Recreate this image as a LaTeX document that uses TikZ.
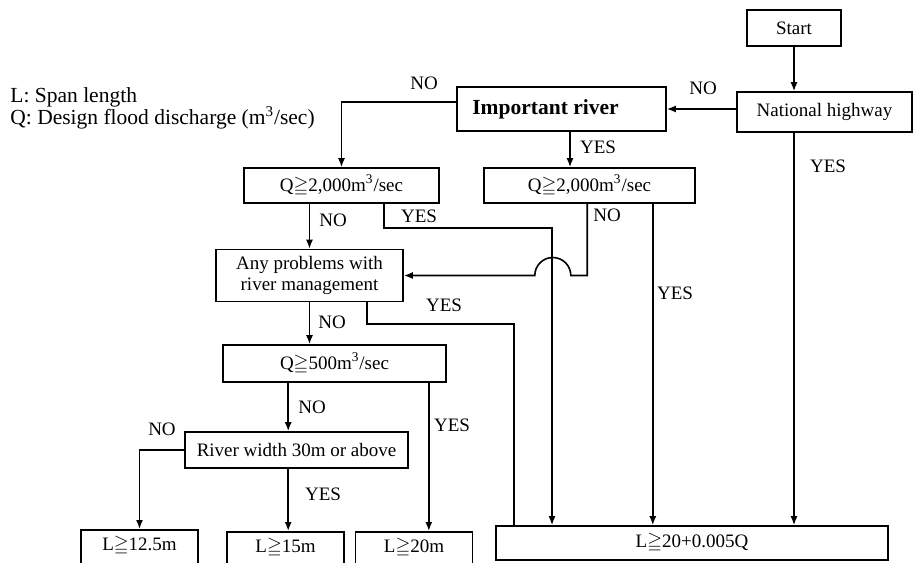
\documentclass[tikz,border=0pt]{standalone}
\usepackage{amssymb}
\usepackage{fontspec}
\setmainfont{Liberation Serif}
\usetikzlibrary{calc, arrows.meta, positioning}

\newcommand{\boxfont}{\fontsize{9.5}{10.5}\selectfont}
\newcommand{\geqmark}{$\geqq$}
\newcommand{\msec}{m\textsuperscript{3}/sec}

\begin{document}
\begin{tikzpicture}[x=0.5pt,y=-0.5pt,
        box/.style={draw, line width=0.8pt, inner sep=0pt, align=center, font=\boxfont},
        sbox/.style={box, anchor=north, minimum width=58.5pt, text height=6.5pt, text depth=14pt, inner ysep=4pt},
        lab/.style={font=\boxfont, inner sep=0pt},
        conn/.style={line width=0.8pt},
        arr/.style={conn, -{Latex[length=4.5pt,width=3.5pt]}}]
        
        \useasboundingbox (0,0) rectangle (915,562);
        \clip (0,0) rectangle (915,562);
        
        %legend
        \node [lab, anchor=west, font=\fontsize{10.75}{12}\selectfont] (legL) at (10,97) {L: Span length};
        \node [lab, anchor=west, font=\fontsize{10.75}{12}\selectfont] (legQ) at (10,118) {Q: Design flood discharge (\msec)};
        
        %boxes
        \node [box, minimum width=47pt, minimum height=18pt] (start) at (794,28) {Start};
        \node [box, minimum width=87.5pt, minimum height=20pt] (nh) at (824.5,112) {National highway};
        \node [box, minimum width=104.5pt, minimum height=22pt, font=\fontsize{10.75}{12}\selectfont\bfseries] (ir) at (561.5,109) {Important river\hspace*{16pt}};
        \node [box, minimum width=97.5pt, minimum height=17.5pt] (qA) at (341.5,185.5) {Q\geqmark2,000\msec};
        \node [box, minimum width=105.5pt, minimum height=17.5pt] (qB) at (589.5,185.5) {Q\geqmark2,000\msec};
        \node [box, minimum width=93.5pt, minimum height=26pt] (apr) at (309.5,275.5) {Any problems with\\river management};
        \node [box, minimum width=111.5pt, minimum height=18.5pt] (qC) at (334.5,363.5) {Q\geqmark500\msec};
        \node [box, minimum width=111.5pt, minimum height=18pt] (rw) at (296.5,450) {River width 30m or above};
        \node [sbox] (l1) at (139.5,529) {L\geqmark12.5m};
        \node [sbox] (l2) at (285.5,531) {L\geqmark15m};
        \node [sbox] (l3) at (414,531) {L\geqmark20m};
        \node [box, minimum width=196pt, minimum height=17pt] (lq) at (692,543) {L\geqmark20+0.005Q};
        
        %turning points of the connectors
        \coordinate (irY) at ($(ir.south)+(8.5,0)$);
        \coordinate (qAyes) at ($(qA.south east)+(-56,0)$);
        \coordinate (jA) at (552,228);
        \coordinate (qBno) at ($(qB.south west)+(104,0)$);
        \coordinate (jB) at ($(apr.east)+(167,0)$);
        \coordinate (qByes) at ($(qB.south east)+(-43,0)$);
        \coordinate (aprYes) at ($(apr.south east)+(-37,0)$);
        \coordinate (jC) at (514,324);
        \coordinate (qCno) at ($(qC.south west)+(66,0)$);
        \coordinate (qCyes) at ($(qC.south east)+(-18,0)$);
        \coordinate (rwYes) at ($(rw.south west)+(104,0)$);
        
        \draw [arr] (start) -- (start |- nh.north);
        \draw [arr] (nh.west |- ir.east) -- (ir.east);
        \draw [arr] ([yshift=3.5pt]ir.west) -| (qA.north);
        \draw [arr] (irY) -- (irY |- qB.north);
        \draw [arr] (apr.north |- qA.south) -- (apr.north);
        \draw [arr] (qAyes) |- (jA) -- (jA |- lq.north);
        %jump over the YES line
        \draw [arr] (qBno) |- (jB) arc[start angle=0, end angle=180, radius=9pt] -- (apr.east);
        \draw [arr] (qByes) -- (qByes |- lq.north);
        \draw [arr] (start |- nh.south) -- (start |- lq.north);
        \draw [conn] (aprYes) |- (jC) -- (jC |- lq.north);
        \draw [arr] (apr.south) -- (apr.south |- qC.north);
        \draw [arr] (qCno) -- (qCno |- rw.north);
        \draw [arr] (qCyes) -- (qCyes |- l3.north);
        \draw [arr] (rw.west) -| (l1.north);
        \draw [arr] (rwYes) -- (rwYes |- l2.north);
        
        %YES / NO
        \node [lab] (noIR) at (424,83) {NO};
        \node [lab] (noNH) at (703,88) {NO};
        \node [lab] (yesIR) at (598,147) {YES};
        \node [lab] (yesNH) at (828,166) {YES};
        \node [lab] (noQA) at (333,220) {NO};
        \node [lab] (yesQA) at (419,216) {YES};
        \node [lab] (noQB) at (607,215) {NO};
        \node [lab] (yesQB) at (675,293) {YES};
        \node [lab] (yesAPR) at (444,305) {YES};
        \node [lab] (noAPR) at (332,322) {NO};
        \node [lab] (noQC) at (312,407) {NO};
        \node [lab] (yesQC) at (452,425) {YES};
        \node [lab] (noRW) at (162,429) {NO};
        \node [lab] (yesRW) at (323,494) {YES};
\end{tikzpicture}
\end{document}
